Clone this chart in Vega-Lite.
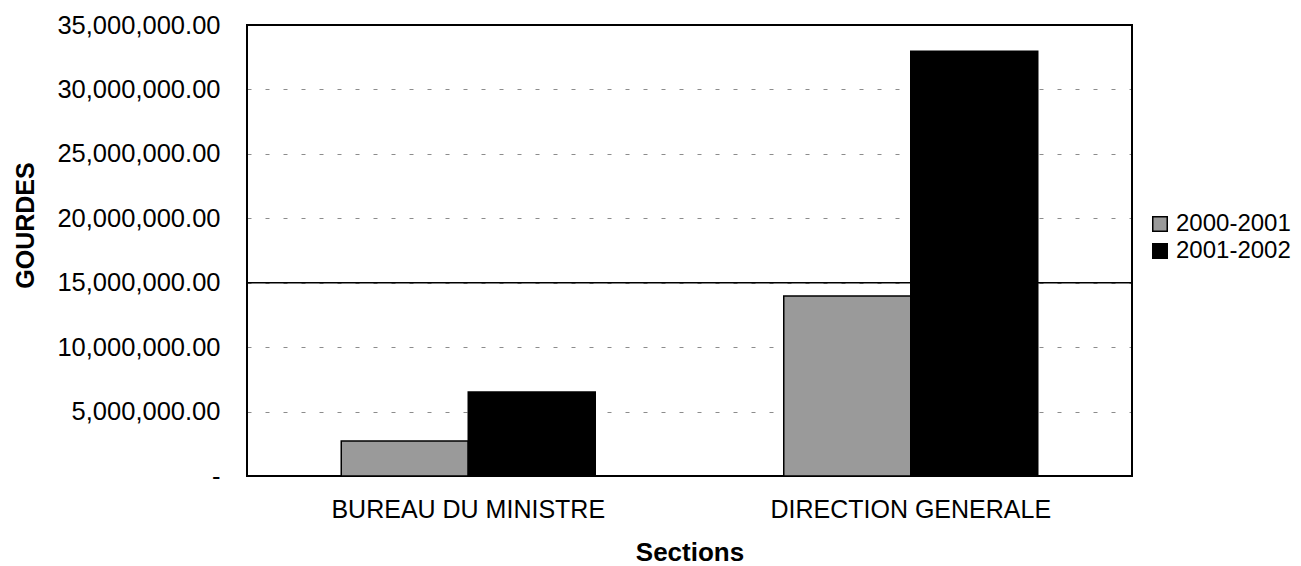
{
  "$schema": "https://vega.github.io/schema/vega-lite/v6.json",
  "autosize": "none",
  "width": 885,
  "height": 451,
  "padding": {"left": 247, "top": 25, "right": 169, "bottom": 90},
  "background": "white",
  "config": {
    "font": "Liberation Sans",
    "view": {"stroke": "#000", "strokeWidth": 2}
  },
  "data": {
    "values": [
      {"section": "BUREAU DU MINISTRE", "year": "2000-2001", "value": 2720000},
      {"section": "BUREAU DU MINISTRE", "year": "2001-2002", "value": 6520000},
      {"section": "DIRECTION GENERALE", "year": "2000-2001", "value": 13970000},
      {"section": "DIRECTION GENERALE", "year": "2001-2002", "value": 32970000}
    ]
  },
  "layer": [
    {
      "data": {"values": [{"g": 15000000}]},
      "mark": {"type": "rule", "color": "#000", "strokeWidth": 1.5},
      "encoding": {"y": {"field": "g", "type": "quantitative", "scale": {"domain": [0, 35000000]}}}
    },
    {
      "mark": {"type": "bar", "stroke": "#000", "strokeWidth": 1.5},
      "encoding": {
        "x": {
          "field": "section",
          "type": "nominal",
          "sort": null,
          "scale": {"paddingInner": 0.426, "paddingOuter": 0.213},
          "axis": {
            "title": "Sections",
            "titleFontSize": 26,
            "titleFontWeight": "bold",
            "titleY": 76,
            "titleBaseline": "middle",
            "labelFontSize": 25,
            "labelLimit": 0,
            "labelAngle": 0,
            "labelColor": "#000",
            "labelPadding": 21,
            "ticks": false,
            "domain": false
          }
        },
        "xOffset": {"field": "year", "type": "nominal", "sort": null},
        "y": {
          "field": "value",
          "type": "quantitative",
          "scale": {"domain": [0, 35000000]},
          "axis": {
            "title": "GOURDES",
            "titleFontSize": 25,
            "titleFontWeight": "bold",
            "titleX": -222,
            "titleY": 200,
            "titleBaseline": "middle",
            "titleAlign": "center",
            "values": [0, 5000000, 10000000, 15000000, 20000000, 25000000, 30000000, 35000000],
            "labelExpr": "datum.value == 0 ? '-\u2007\u2007' : format(datum.value, ',.2f')",
            "labelFontSize": 25.5,
            "labelLimit": 0,
            "labelColor": "#000",
            "labelPadding": 27,
            "ticks": false,
            "domain": false,
            "grid": true,
            "gridColor": "#000",
            "gridOpacity": 0.45,
            "gridDash": [4, 14]
          }
        },
        "color": {
          "field": "year",
          "type": "nominal",
          "scale": {"domain": ["2000-2001", "2001-2002"], "range": ["#9a9a9a", "#000000"]},
          "legend": {
            "title": null,
            "orient": "none",
            "legendX": 901,
            "legendY": 187,
            "padding": 0,
            "symbolType": "square",
            "symbolSize": 210,
            "symbolStrokeColor": "#000",
            "symbolStrokeWidth": 1.5,
            "labelFontSize": 24,
            "labelLimit": 0,
            "labelColor": "#000",
            "labelOffset": 4,
            "rowPadding": 3
          }
        }
      }
    }
  ]
}
